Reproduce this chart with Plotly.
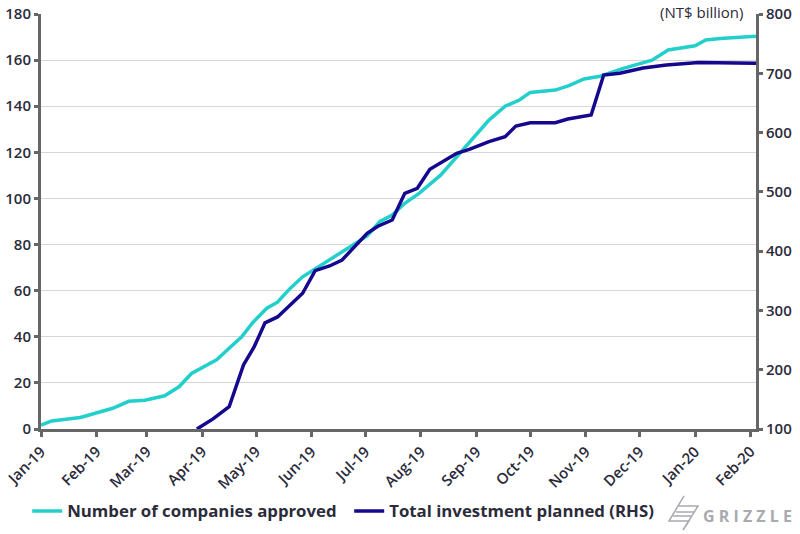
import plotly.graph_objects as go

# Number of companies approved (LHS)
comp_dates = ["2019-01-01", "2019-01-07", "2019-01-23", "2019-02-01", "2019-02-10", "2019-02-19",
              "2019-02-28", "2019-03-11", "2019-03-19", "2019-03-26", "2019-04-09", "2019-04-16",
              "2019-04-23", "2019-04-29", "2019-05-07", "2019-05-13", "2019-05-20", "2019-05-27",
              "2019-06-03", "2019-06-11", "2019-06-19", "2019-07-02", "2019-07-09", "2019-07-16",
              "2019-07-23", "2019-07-31", "2019-08-12", "2019-08-21", "2019-08-30", "2019-09-08",
              "2019-09-17", "2019-09-25", "2019-10-01", "2019-10-15", "2019-10-23", "2019-10-31",
              "2019-11-09", "2019-11-22", "2019-12-08", "2019-12-17", "2020-01-01", "2020-01-07",
              "2020-01-15", "2020-02-04"]
comp_vals = [1.7, 3.5, 5, 7, 9, 12, 12.5, 14.4, 18.3, 24.1, 30, 35, 40, 46, 52.4, 55, 61, 66,
             69.4, 73.3, 77.6, 83.7, 89.9, 92.8, 97.9, 102.2, 110.1, 118.1, 126, 134, 140, 142.7,
             146, 147, 149, 151.8, 153, 156.4, 160, 164.4, 166.2, 168.7, 169.4, 170.4]

# Total investment planned, NT$ billion (RHS)
inv_dates = ["2019-03-29", "2019-04-07", "2019-04-16", "2019-04-24", "2019-04-30", "2019-05-06",
             "2019-05-13", "2019-05-20", "2019-05-27", "2019-06-03", "2019-06-11", "2019-06-18",
             "2019-07-02", "2019-07-08", "2019-07-16", "2019-07-23", "2019-07-30", "2019-08-06",
             "2019-08-13", "2019-08-21", "2019-08-28", "2019-09-08", "2019-09-17", "2019-09-23",
             "2019-10-01", "2019-10-15", "2019-10-22", "2019-11-04", "2019-11-11", "2019-11-20",
             "2019-12-03", "2019-12-16", "2020-01-03", "2020-02-04"]
inv_vals = [100, 117, 137.6, 208, 239, 279, 289, 309, 329, 367, 375, 385, 430, 442, 452.5, 497.5,
            506, 538, 551, 565, 571.7, 584.6, 593, 611, 616.6, 616.6, 622.8, 629.6, 697, 700,
            709, 714, 718, 717]

tick_dates = ["2019-01-01", "2019-02-01", "2019-03-01", "2019-04-01", "2019-05-01", "2019-06-01",
              "2019-07-01", "2019-08-01", "2019-09-01", "2019-10-01", "2019-11-01", "2019-12-01",
              "2020-01-01", "2020-02-01"]
tick_labels = ["Jan-19", "Feb-19", "Mar-19", "Apr-19", "May-19", "Jun-19", "Jul-19", "Aug-19",
               "Sep-19", "Oct-19", "Nov-19", "Dec-19", "Jan-20", "Feb-20"]

CYAN = "#22cfcb"
NAVY = "#16088e"
AXIS = "#666666"
TXT = "#2b2b3a"
LOGO = "#a9a9b0"
FONT = "Open Sans"

fig = go.Figure()
fig.add_trace(go.Scatter(x=comp_dates, y=comp_vals, mode="lines", name="Number of companies approved",
                         line=dict(color=CYAN, width=3.5), yaxis="y"))
fig.add_trace(go.Scatter(x=inv_dates, y=inv_vals, mode="lines", name="Total investment planned (RHS)",
                         line=dict(color=NAVY, width=3.5), yaxis="y2"))

tickfont = dict(size=15, family=FONT, weight=600, color=TXT)

fig.update_layout(
    width=800, height=534,
    margin=dict(l=41, r=44, t=14, b=105),
    plot_bgcolor="white", paper_bgcolor="white",
    font=dict(family=FONT, color=TXT, size=14),
    xaxis=dict(type="date", range=["2019-01-01", "2020-02-04"], tickvals=tick_dates,
               ticktext=tick_labels, tickangle=-45, showgrid=False, showline=True,
               linecolor=AXIS, linewidth=3, ticks="outside", ticklen=5, tickwidth=3,
               tickcolor=AXIS, tickfont=tickfont, zeroline=False, automargin=False),
    yaxis=dict(range=[0, 180], dtick=20, showgrid=True, gridcolor="#d6d6d6", gridwidth=1,
               showline=True, linecolor=AXIS, linewidth=3, ticks="outside", ticklen=4,
               tickwidth=3, tickcolor=AXIS, zeroline=False, tickfont=tickfont,
               automargin=False),
    yaxis2=dict(range=[100, 800], dtick=100, overlaying="y", side="right", showgrid=False,
                showline=True, linecolor=AXIS, linewidth=3, ticks="outside", ticklen=4,
                tickwidth=3, tickcolor=AXIS, zeroline=False, tickfont=tickfont,
                automargin=False),
    legend=dict(orientation="h", xref="container", yref="container", x=0.034, xanchor="left",
                y=(534 - 511) / 534, yanchor="middle",
                font=dict(size=16.8, family=FONT, color=TXT, weight=700),
                itemwidth=30, entrywidth=277, tracegroupgap=0, bgcolor="rgba(0,0,0,0)"),
    showlegend=True,
)

fig.add_annotation(text="(NT$ billion)", xref="paper", yref="paper", x=0.985, y=1.005,
                   xanchor="right", yanchor="middle", showarrow=False,
                   font=dict(size=15, family=FONT, color=TXT, weight=500), bgcolor="white")


def px(x, y):
    return (x - 41) / 715, (429 - y) / 415


gx, gy = px(794, 516)
fig.add_annotation(text="G R I Z Z L E", xref="paper", yref="paper", x=gx, y=gy,
                   xanchor="right", yanchor="middle", showarrow=False,
                   font=dict(size=16, family=FONT, color=LOGO, weight=700))

# logo mark (decorative)
pts = [(684, 496), (669, 521), (689, 521), (683, 530), (698, 506), (678, 506), (684, 496)]
path = "M " + " L ".join("%.4f,%.4f" % px(a, b) for a, b in pts)
fig.add_shape(type="path", xref="paper", yref="paper", path=path,
              line=dict(color=LOGO, width=1.5), fillcolor="rgba(0,0,0,0)")
for (a1, b1, a2, b2) in [(676, 512, 694, 512), (673, 516, 691, 516)]:
    x1, y1 = px(a1, b1)
    x2, y2 = px(a2, b2)
    fig.add_shape(type="line", xref="paper", yref="paper", x0=x1, y0=y1, x1=x2, y1=y2,
                  line=dict(color=LOGO, width=1.5))

fig.write_html("out.html", config={"displayModeBar": False},
               post_script="document.body.style.margin='0';")
